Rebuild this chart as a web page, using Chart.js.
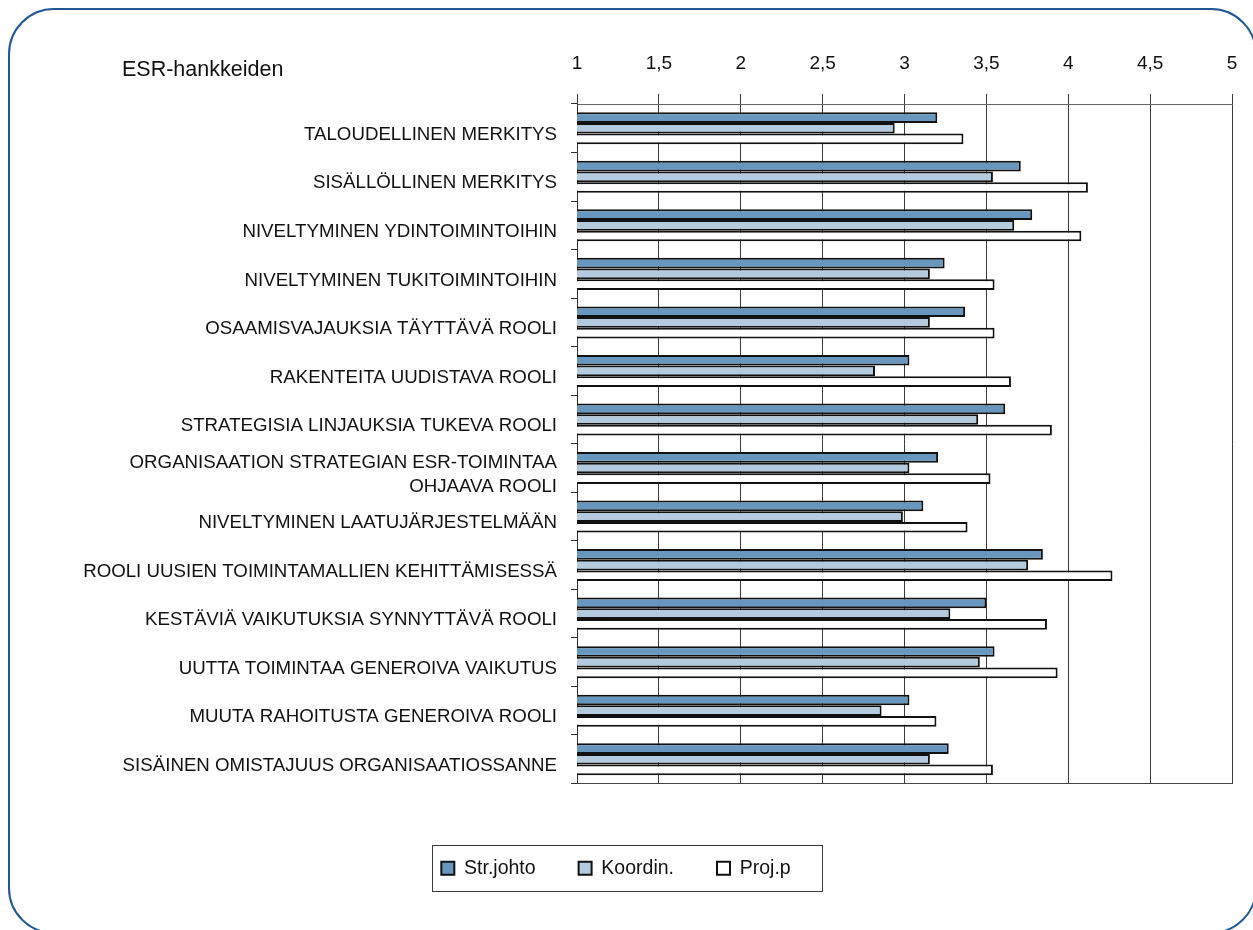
<!DOCTYPE html>
<html lang="fi">
<head>
<meta charset="utf-8">
<title>ESR-hankkeiden</title>
<script src="https://cdn.jsdelivr.net/npm/chart.js@4/dist/chart.umd.min.js"></script>
<style>
  html, body {
    margin: 0;
    padding: 0;
    background: #ffffff;
  }

  .page {
    position: relative;
    width: 1253px;
    height: 930px;
    overflow: hidden;
  }

  .frame {
    position: absolute;
    left: 8px;
    top: 8px;
    width: 1249px;
    height: 926px;
    box-sizing: border-box;
    border: 2.5px solid #1f5797;
    border-radius: 46px;
    pointer-events: none;
  }

  .chart-box {
    position: absolute;
    left: 0;
    top: 0;
    width: 1253px;
    height: 930px;
  }
</style>
</head>
<body>
<div class="page">
  <div class="frame"></div>
  <div class="chart-box">
    <canvas id="esr-chart"></canvas>
  </div>
</div>

<script>
const categories = [
  'TALOUDELLINEN MERKITYS',
  'SISÄLLÖLLINEN MERKITYS',
  'NIVELTYMINEN YDINTOIMINTOIHIN',
  'NIVELTYMINEN TUKITOIMINTOIHIN',
  'OSAAMISVAJAUKSIA TÄYTTÄVÄ ROOLI',
  'RAKENTEITA UUDISTAVA ROOLI',
  'STRATEGISIA LINJAUKSIA TUKEVA ROOLI',
  ['ORGANISAATION STRATEGIAN ESR-TOIMINTAA', 'OHJAAVA ROOLI'],
  'NIVELTYMINEN LAATUJÄRJESTELMÄÄN',
  'ROOLI UUSIEN TOIMINTAMALLIEN KEHITTÄMISESSÄ',
  'KESTÄVIÄ VAIKUTUKSIA SYNNYTTÄVÄ ROOLI',
  'UUTTA TOIMINTAA GENEROIVA VAIKUTUS',
  'MUUTA RAHOITUSTA GENEROIVA ROOLI',
  'SISÄINEN OMISTAJUUS ORGANISAATIOSSANNE',
];

const seriesLabels = ['Str.johto', 'Koordin.', 'Proj.p'];

const strJohto = [3.2, 3.71, 3.78, 3.245, 3.37, 3.03, 3.615, 3.205, 3.115, 3.845, 3.5, 3.55, 3.03, 3.27];
const koordin = [2.94, 3.54, 3.67, 3.155, 3.155, 2.82, 3.45, 3.03, 2.99, 3.755, 3.28, 3.46, 2.86, 3.155];
const projP = [3.36, 4.12, 4.08, 3.55, 3.55, 3.65, 3.9, 3.525, 3.385, 4.27, 3.87, 3.935, 3.195, 3.54];

const axisMin = 1;
const axisMax = 5;
const axisStep = 0.5;
const chartTitle = 'ESR-hankkeiden';

const FONT = "'Liberation Sans', Arial, Helvetica, sans-serif";

Chart.defaults.font.family = FONT;
Chart.defaults.color = '#111111';

// title sits on the same line as the top tick labels
const titlePlugin = {
  id: 'cornerTitle',
  afterDraw(chart) {
    const ctx = chart.ctx;
    ctx.save();
    ctx.font = `21.5px ${FONT}`;
    ctx.fillStyle = '#111111';
    ctx.textAlign = 'left';
    ctx.textBaseline = 'alphabetic';
    ctx.fillText(chartTitle, 122, 76);
    ctx.restore();
  },
};

// thin box round the legend items
const legendFrame = {
  id: 'legendFrame',
  afterDraw(chart) {
    const boxes = chart.legend && chart.legend.legendHitBoxes;
    if (!boxes || !boxes.length) {
      return;
    }

    const first = boxes[0];
    const last = boxes[boxes.length - 1];
    const left = Math.round(first.left) - 8.5;
    const right = Math.round(last.left + last.width) + 31.5;
    const top = Math.round(first.top) - 13.5;
    const bottom = Math.round(first.top + first.height) + 13.5;

    const ctx = chart.ctx;
    ctx.save();
    ctx.strokeStyle = '#3a3a3a';
    ctx.lineWidth = 1;
    ctx.strokeRect(left, top, right - left, bottom - top);
    ctx.restore();
  },
};

const barBorder = '#111111';

const canvas = document.getElementById('esr-chart');

new Chart(canvas, {
  type: 'bar',
  data: {
    labels: categories,
    datasets: [
      {
        label: seriesLabels[0],
        data: strJohto,
        backgroundColor: '#6796be',
        borderColor: barBorder,
        borderWidth: 2,
        borderSkipped: false,
      },
      {
        label: seriesLabels[1],
        data: koordin,
        backgroundColor: '#b4cbdf',
        borderColor: barBorder,
        borderWidth: 2,
        borderSkipped: false,
      },
      {
        label: seriesLabels[2],
        data: projP,
        backgroundColor: '#ffffff',
        borderColor: barBorder,
        borderWidth: 2,
        borderSkipped: false,
      },
    ],
  },
  options: {
    indexAxis: 'y',
    responsive: true,
    maintainAspectRatio: false,
    animation: false,
    categoryPercentage: 0.66,
    barPercentage: 1.0,
    layout: {
      padding: {
        left: 0,
        right: 21,
        top: 0,
        bottom: 42,
      },
    },
    plugins: {
      legend: {
        position: 'bottom',
        labels: {
          boxWidth: 13,
          boxHeight: 13,
          padding: 43,
          color: '#111111',
          font: {
            size: 19.5,
          },
        },
      },
      tooltip: {
        enabled: true,
      },
    },
    scales: {
      x: {
        type: 'linear',
        position: 'top',
        min: axisMin,
        max: axisMax,
        afterFit(axis) {
          axis.height = 104;
          axis.paddingLeft = 0;
          axis.paddingRight = 0;
        },
        ticks: {
          stepSize: axisStep,
          padding: 19,
          color: '#111111',
          font: {
            size: 19,
          },
          callback(value) {
            return String(value).replace('.', ',');
          },
        },
        grid: {
          color: '#3a3a3a',
          lineWidth: 1,
          tickLength: 10,
        },
        border: {
          color: '#666666',
          width: 1,
        },
      },
      x2: {
        type: 'linear',
        position: 'bottom',
        min: axisMin,
        max: axisMax,
        afterFit(axis) {
          axis.height = 32;
          axis.paddingLeft = 0;
          axis.paddingRight = 0;
        },
        ticks: {
          display: false,
        },
        grid: {
          display: false,
        },
        border: {
          color: '#444444',
          width: 1,
        },
      },
      y: {
        afterFit(axis) {
          axis.width = 577;
        },
        ticks: {
          autoSkip: false,
          padding: 14,
          labelOffset: 6.5,
          color: '#111111',
          font: {
            size: 18.7,
            lineHeight: 1.3,
          },
        },
        grid: {
          drawOnChartArea: false,
          color: '#333333',
          tickLength: 6,
        },
        border: {
          color: '#333333',
          width: 1,
        },
      },
    },
  },
  plugins: [titlePlugin, legendFrame],
});
</script>
</body>
</html>
